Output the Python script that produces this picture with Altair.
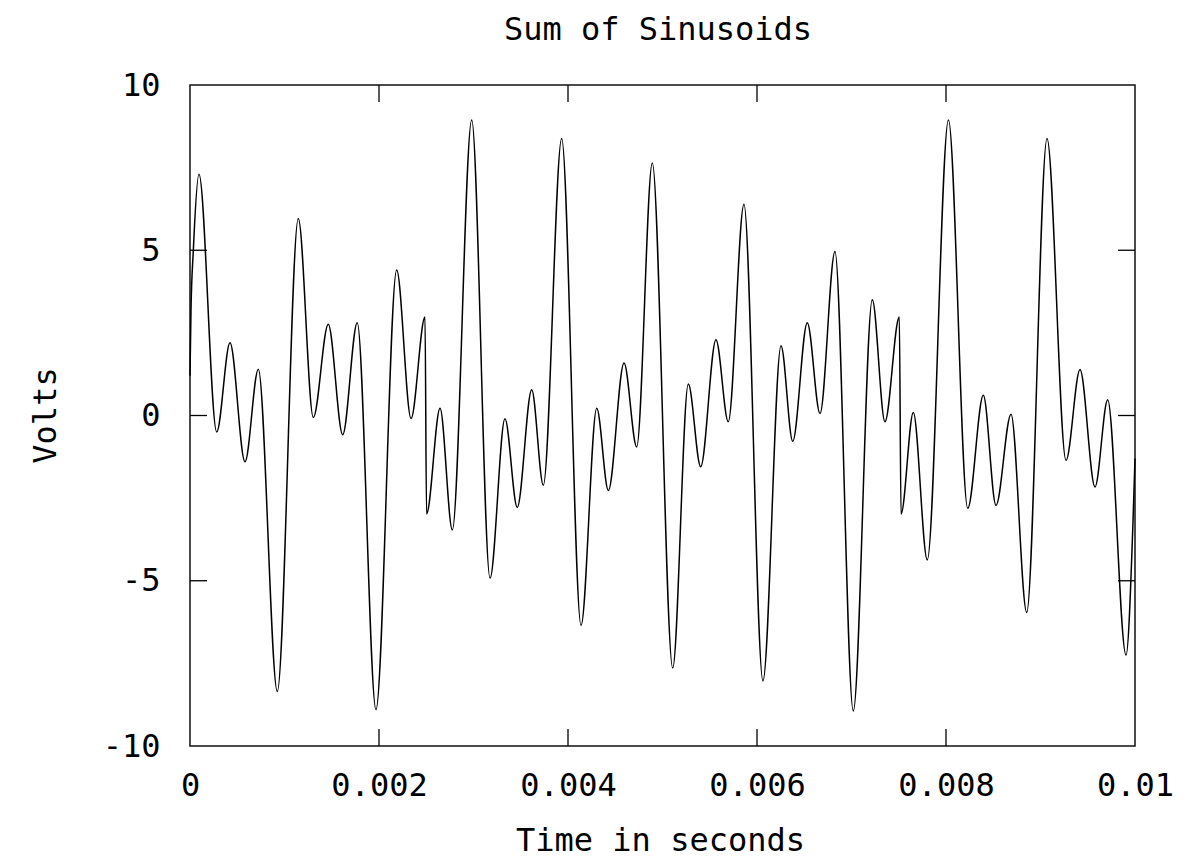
import altair as alt
import pandas as pd

# Waveform (time in seconds, volts)
t_s = [0, 0.0000106, 0.0000353, 0.0000952, 0.0002825, 0.0004233, 0.000582, 0.000723,
       0.000924, 0.001146, 0.001305, 0.001463, 0.001616, 0.00177, 0.001968, 0.002187,
       0.002339, 0.002487, 0.002503, 0.002646, 0.002776, 0.002981, 0.003175, 0.003333,
       0.003463, 0.003616, 0.003739, 0.003933, 0.004138, 0.004304, 0.004427, 0.004593,
       0.004727, 0.004892, 0.005108, 0.005273, 0.005404, 0.005566, 0.005696, 0.005862,
       0.006063, 0.006254, 0.006378, 0.006532, 0.006667, 0.006825, 0.007019, 0.00722,
       0.007354, 0.007506, 0.007524, 0.007654, 0.007802, 0.008026, 0.00823, 0.008395,
       0.008529, 0.008688, 0.008854, 0.009069, 0.00927, 0.009418, 0.009577, 0.009711,
       0.009905, 0.009979, 0.01]
volts = [1.2, 3.2, 5.0, 7.3, -0.5, 2.2, -1.4, 1.4, -8.35, 5.96, -0.06, 2.76, -0.58, 2.81,
         -8.9, 4.4, -0.09, 2.98, -2.98, 0.22, -3.46, 8.94, -4.92, -0.1, -2.78, 0.78, -2.11,
         8.38, -6.35, 0.22, -2.27, 1.59, -0.95, 7.64, -7.64, 0.95, -1.55, 2.29, -0.19, 6.39,
         -8.03, 2.11, -0.78, 2.81, 0.06, 4.96, -8.94, 3.5, -0.19, 2.98, -2.98, 0.09, -4.37,
         8.94, -2.81, 0.61, -2.72, 0.04, -5.96, 8.38, -1.36, 1.39, -2.16, 0.48, -7.25, -3.2,
         -1.3]

x_tick_values = [0, 0.002, 0.004, 0.006, 0.008, 0.01]
y_tick_values = [-10, -5, 0, 5, 10]
x_inner_ticks = [0.002, 0.004, 0.006, 0.008]
y_inner_ticks = [-5, 0, 5]
chart_title = ["Sum of Sinusoids"]

W, H = 945, 661
TL = 17
FONT = "DejaVu Sans Mono"
FS = 32

df = pd.DataFrame({"t": t_s, "v": volts})
xscale = alt.Scale(domain=[0, 0.01], nice=False, zero=False)
yscale = alt.Scale(domain=[-10, 10], nice=False)

xaxis = alt.Axis(values=x_tick_values, format="~g", title="Time in seconds",
                 labelPadding=24, labelFlush=False, titleX=470, titleY=94,
                 titleAlign="center", titleBaseline="middle")
yaxis = alt.Axis(values=y_tick_values, title="Volts", labelPadding=30, labelFlush=False,
                 labelExpr="replace(datum.label, '\u2212', '-')",
                 titleX=-145, titleY=330, titleAngle=-90,
                 titleAlign="center", titleBaseline="middle")

line = alt.Chart(df).mark_line(color="black", strokeWidth=1.5, interpolate="monotone").encode(
    x=alt.X("t:Q", scale=xscale, axis=xaxis),
    y=alt.Y("v:Q", scale=yscale, axis=yaxis),
)

ydf = pd.DataFrame({"v": y_inner_ticks})
xdf = pd.DataFrame({"t": x_inner_ticks})

left_ticks = alt.Chart(ydf).mark_rule(color="black", strokeWidth=1.3).encode(
    y=alt.Y("v:Q", scale=yscale, axis=yaxis), x=alt.value(0), x2=alt.value(TL))
right_ticks = alt.Chart(ydf).mark_rule(color="black", strokeWidth=1.3).encode(
    y=alt.Y("v:Q", scale=yscale, axis=yaxis), x=alt.value(W - TL), x2=alt.value(W))
top_ticks = alt.Chart(xdf).mark_rule(color="black", strokeWidth=1.3).encode(
    x=alt.X("t:Q", scale=xscale, axis=xaxis), y=alt.value(0), y2=alt.value(TL))
bottom_ticks = alt.Chart(xdf).mark_rule(color="black", strokeWidth=1.3).encode(
    x=alt.X("t:Q", scale=xscale, axis=xaxis), y=alt.value(H - TL), y2=alt.value(H))

title_text = alt.Chart(pd.DataFrame({"title": chart_title})).mark_text(
    font=FONT, fontSize=FS, color="black", align="center", baseline="alphabetic"
).encode(text="title:N", x=alt.value(468), y=alt.value(-45))

chart = alt.layer(line, left_ticks, right_ticks, top_ticks, bottom_ticks, title_text).properties(
    width=W, height=H,
    padding={"left": 182, "top": 77, "right": 51, "bottom": 114},
    autosize=alt.AutoSizeParams(type="none"),
    background="white",
).configure_axis(
    labelFont=FONT, labelFontSize=FS, labelColor="black",
    titleFont=FONT, titleFontSize=FS, titleFontWeight="normal", titleColor="black",
    grid=False, domain=False, ticks=False, tickSize=0,
).configure_view(stroke="#111", strokeWidth=1.5)

chart.save("out.html", embed_options={"renderer": "svg", "actions": False})
